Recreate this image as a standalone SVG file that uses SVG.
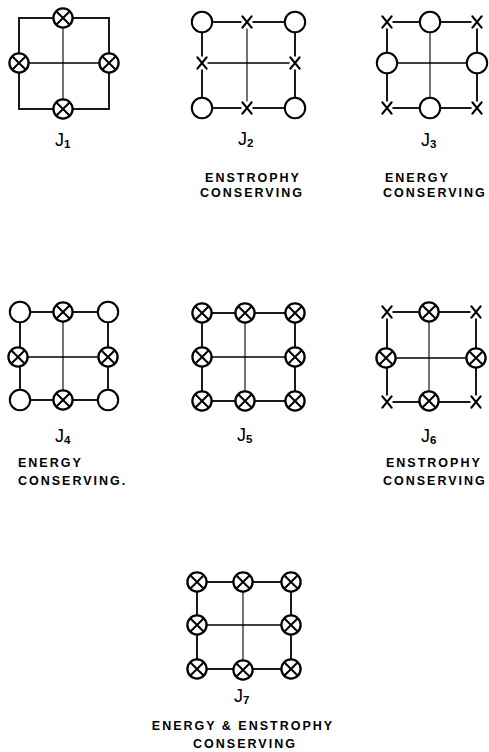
<svg xmlns="http://www.w3.org/2000/svg" width="489" height="752" viewBox="0 0 489 752">
<style>
.edge{stroke:#000;stroke-width:1.8;fill:none;stroke-linecap:round}
.thin{stroke:#000;stroke-width:1.1;fill:none}
.mid{stroke:#000;stroke-width:1.6;fill:none}
.lbl{font-family:"Liberation Sans",Arial,sans-serif;font-size:18px;fill:#000}
.sub{font-size:11.5px;font-weight:bold}
.cap{font-family:"Liberation Sans",Arial,sans-serif;font-size:12.5px;font-weight:bold;letter-spacing:2px;fill:#000}
</style>
<defs>
<g id="oc"><circle r="10.2" fill="#fff" stroke="#000" stroke-width="2"/></g>
<g id="cx"><circle r="9.6" fill="#fff" stroke="#000" stroke-width="2.3"/><path d="M-6.8,-6.8L6.8,6.8M6.8,-6.8L-6.8,6.8" stroke="#000" stroke-width="2"/></g>
<g id="xm"><rect x="-5.5" y="-6.5" width="11" height="13" fill="#fff"/><path d="M-4.6,-5.6L4.6,5.6M4.6,-5.6L-4.6,5.6" stroke="#000" stroke-width="2.2" stroke-linecap="round"/></g>
</defs>
<g id="connectors">
<rect class="edge" x="19" y="18" width="90" height="91"/>
<line class="thin" x1="63" y1="18" x2="63" y2="109"/>
<line class="mid" x1="19" y1="63" x2="109" y2="63"/>
<rect class="edge" x="202" y="22" width="93" height="86"/>
<line class="thin" x1="247" y1="22" x2="247" y2="108"/>
<line class="mid" x1="202" y1="63" x2="295" y2="63"/>
<rect class="edge" x="387" y="22" width="90" height="86"/>
<line class="thin" x1="430" y1="22" x2="430" y2="108"/>
<line class="mid" x1="387" y1="63" x2="477" y2="63"/>
<rect class="edge" x="20" y="312" width="88" height="88"/>
<line class="thin" x1="63" y1="312" x2="63" y2="400"/>
<line class="mid" x1="20" y1="357" x2="108" y2="357"/>
<rect class="edge" x="202" y="313" width="93" height="88"/>
<line class="thin" x1="245" y1="313" x2="245" y2="401"/>
<line class="mid" x1="202" y1="357" x2="295" y2="357"/>
<rect class="edge" x="387" y="312" width="89" height="90"/>
<line class="thin" x1="429" y1="312" x2="429" y2="402"/>
<line class="mid" x1="387" y1="358" x2="476" y2="358"/>
<rect class="edge" x="197" y="582" width="94" height="87"/>
<line class="thin" x1="243" y1="582" x2="243" y2="669"/>
<line class="mid" x1="197" y1="625" x2="291" y2="625"/>
</g>
<g id="J1">
<use href="#cx" x="63" y="18"/><use href="#cx" x="19" y="63"/><use href="#cx" x="109" y="63"/><use href="#cx" x="63" y="109"/>
<text class="lbl" x="55" y="146">J<tspan class="sub" dy="2">1</tspan></text>
</g>
<g id="J2">
<use href="#oc" x="202" y="22"/><use href="#xm" x="247" y="22"/><use href="#oc" x="295" y="22"/>
<use href="#xm" x="202" y="63"/><use href="#xm" x="295" y="63"/>
<use href="#oc" x="202" y="108"/><use href="#xm" x="247" y="108"/><use href="#oc" x="295" y="108"/>
<text class="lbl" x="238" y="145">J<tspan class="sub" dy="2">2</tspan></text>
<text class="cap" x="253" y="182" text-anchor="middle">ENSTROPHY</text>
<text class="cap" x="252" y="197" text-anchor="middle">CONSERVING</text>
</g>
<g id="J3">
<use href="#xm" x="387" y="22"/><use href="#oc" x="430" y="22"/><use href="#xm" x="477" y="22"/>
<use href="#oc" x="387" y="63"/><use href="#oc" x="477" y="63"/>
<use href="#xm" x="387" y="108"/><use href="#oc" x="430" y="108"/><use href="#xm" x="477" y="108"/>
<text class="lbl" x="421" y="146">J<tspan class="sub" dy="2">3</tspan></text>
<text class="cap" x="385" y="182">ENERGY</text>
<text class="cap" x="383" y="197">CONSERVING</text>
</g>
<g id="J4">
<use href="#oc" x="20" y="312"/><use href="#cx" x="63" y="312"/><use href="#oc" x="108" y="312"/>
<use href="#cx" x="18" y="357"/><use href="#cx" x="108" y="357"/>
<use href="#oc" x="20" y="400"/><use href="#cx" x="63" y="400"/><use href="#oc" x="108" y="400"/>
<text class="lbl" x="55" y="442">J<tspan class="sub" dy="2">4</tspan></text>
<text class="cap" x="18" y="467">ENERGY</text>
<text class="cap" x="18" y="485">CONSERVING.</text>
</g>
<g id="J5">
<use href="#cx" x="202" y="313"/><use href="#cx" x="245" y="313"/><use href="#cx" x="295" y="313"/>
<use href="#cx" x="202" y="357"/><use href="#cx" x="295" y="357"/>
<use href="#cx" x="202" y="401"/><use href="#cx" x="245" y="401"/><use href="#cx" x="295" y="401"/>
<text class="lbl" x="237" y="441">J<tspan class="sub" dy="2">5</tspan></text>
</g>
<g id="J6">
<use href="#xm" x="387" y="312"/><use href="#cx" x="429" y="312"/><use href="#xm" x="476" y="312"/>
<use href="#cx" x="386" y="358"/><use href="#cx" x="476" y="358"/>
<use href="#xm" x="387" y="402"/><use href="#cx" x="429" y="401"/><use href="#xm" x="476" y="402"/>
<text class="lbl" x="421" y="442">J<tspan class="sub" dy="2">6</tspan></text>
<text class="cap" x="386" y="467">ENSTROPHY</text>
<text class="cap" x="383" y="485">CONSERVING</text>
</g>
<g id="J7">
<use href="#cx" x="197" y="582"/><use href="#cx" x="243" y="582"/><use href="#cx" x="291" y="582"/>
<use href="#cx" x="197" y="625"/><use href="#cx" x="291" y="625"/>
<use href="#cx" x="197" y="669"/><use href="#cx" x="243" y="670"/><use href="#cx" x="291" y="669"/>
<text class="lbl" x="234" y="702">J<tspan class="sub" dy="2">7</tspan></text>
<text class="cap" x="243" y="730" text-anchor="middle">ENERGY &amp; ENSTROPHY</text>
<text class="cap" x="245" y="748" text-anchor="middle">CONSERVING</text>
</g>
</svg>
